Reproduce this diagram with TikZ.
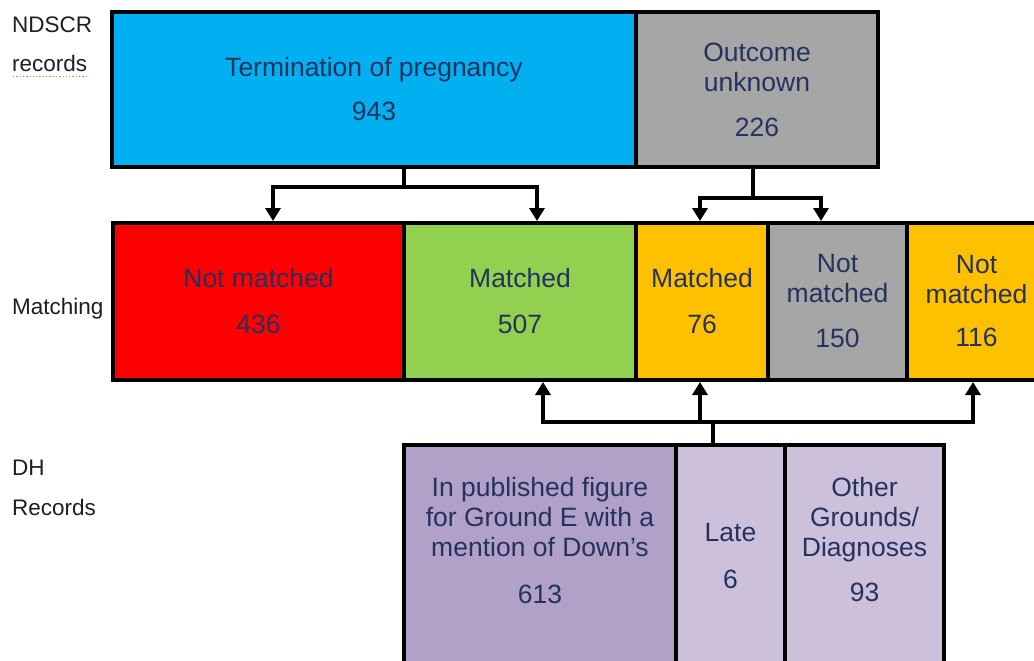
\documentclass[tikz,border=0pt]{standalone}
\usepackage{fontspec}
\setmainfont{Liberation Sans}
\usetikzlibrary{arrows.meta}
\definecolor{cblue}{HTML}{00B0F0}
\definecolor{cgray}{HTML}{A6A6A6}
\definecolor{cred}{HTML}{FF0000}
\definecolor{cgreen}{HTML}{92D050}
\definecolor{corange}{HTML}{FFC000}
\definecolor{cpurple}{HTML}{B1A0C7}
\definecolor{clilac}{HTML}{CCC0DA}
\definecolor{ctext}{RGB}{37,50,95}
\definecolor{clabel}{RGB}{30,30,30}
\definecolor{csquig}{RGB}{120,180,80}
\begin{document}
\begin{tikzpicture}[x=1pt,y=-1pt,
  >={Triangle[width=15pt,length=13pt]},
  box/.style={draw=black, line width=4pt, inner sep=0pt, align=center,
    text=ctext, font=\fontsize{26.5}{30}\selectfont},
  boxtext/.style={inner sep=0pt, align=center, anchor=north,
    text=ctext, font=\fontsize{26.5}{30}\selectfont},
  lab/.style={anchor=base west, inner sep=0pt,
    font=\fontsize{22.5}{27}\selectfont, text=clabel},
  conn/.style={line width=3.5pt, draw=black}]
\useasboundingbox (0,0) rectangle (1034,661);
\clip (0,0) rectangle (1034,661);

% left labels
\node[lab] (l1) at (12,33) {NDSCR};
\node[lab] (l2) at (12,72) {records};
\draw[csquig, dotted, line width=1.3pt] (l2.south west) ++(1,4) -- ++(75,0);
\node[lab] (l3) at (12,314) {Matching};
\node[lab] (l4) at (12,475) {DH};
\node[lab] (l5) at (12,515) {Records};

% top row
\node[box, fill=cblue, minimum width=524pt, minimum height=155pt] (term) at (374,89.5)
  {Termination of pregnancy\\[14pt]943};
\node[box, fill=cgray, minimum width=242pt, minimum height=155pt] (outc) at (757,89.5)
  {Outcome\\unknown\\[15pt]226};

% middle row
\node[box, fill=cred, minimum width=291pt, minimum height=157pt] (nm1) at (258.5,301.5)
  {Not matched\\[16pt]436};
\node[box, fill=cgreen, minimum width=232pt, minimum height=157pt] (m1) at (520,301.5)
  {Matched\\[16pt]507};
\node[box, fill=corange, minimum width=132pt, minimum height=157pt] (m2) at (702,301.5)
  {Matched\\[16pt]76};
\node[box, fill=cgray, minimum width=139pt, minimum height=157pt] (nm2) at (837.5,301.5)
  {Not\\matched\\[15pt]150};
\node[box, fill=corange, minimum width=139pt, minimum height=157pt] (nm3) at (976.5,301.5)
  {Not\\matched\\[13pt]116};

% bottom row
\node[box, fill=cpurple, minimum width=272pt, minimum height=255pt] (pub) at (540,572.5) {};
\node[box, fill=clilac, minimum width=109pt, minimum height=255pt] (late) at (730.5,572.5) {};
\node[box, fill=clilac, minimum width=159pt, minimum height=255pt] (oth) at (864.5,572.5) {};
\node[boxtext] (pubt) at (540,477.5)
  {In published figure\\for Ground E with a\\mention of Down’s\\[17pt]613};
\node[boxtext] (latet) at (730.5,523.5) {Late\\[17pt]6};
\node[boxtext] (otht) at (864.5,477.5) {Other\\Grounds/\\Diagnoses\\[15pt]93};

% connectors from top row
\coordinate (j1) at (404,187);
\coordinate (b1l) at (273,187);
\coordinate (b1r) at (537,187);
\draw[conn] (term.south -| j1) -- (j1);
\draw[conn, <->] (b1l |- nm1.north) -- (b1l) -- (b1r) -- (b1r |- m1.north);

\coordinate (j2) at (753,198);
\coordinate (b2l) at (700,198);
\coordinate (b2r) at (821,198);
\draw[conn] (outc.south -| j2) -- (j2);
\draw[conn, <->] (b2l |- m2.north) -- (b2l) -- (b2r) -- (b2r |- nm2.north);

% connectors from bottom row
\coordinate (j3) at (713,422);
\coordinate (b3l) at (543,422);
\coordinate (b3m) at (700,422);
\coordinate (b3r) at (973,422);
\draw[conn] (late.north -| j3) -- (j3);
\draw[conn, <->] (b3l |- m1.south) -- (b3l) -- (b3r) -- (b3r |- nm3.south);
\draw[conn, ->] (b3m) -- (b3m |- m2.south);
\end{tikzpicture}
\end{document}
